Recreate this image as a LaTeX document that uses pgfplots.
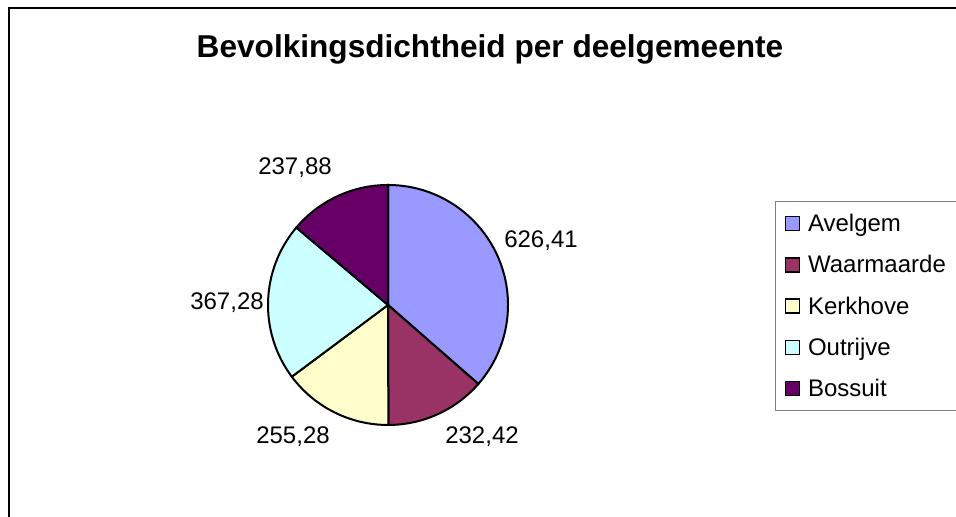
\documentclass[border=0pt]{standalone}
\usepackage{fontspec}
\setmainfont{Liberation Sans}
\usepackage{pgfplots}
\pgfplotsset{compat=1.18}
\usepackage{pgfplotstable}

% Excel 2003 pie palette
\definecolor{pie0}{HTML}{9999FF}
\definecolor{pie1}{HTML}{993366}
\definecolor{pie2}{HTML}{FFFFCC}
\definecolor{pie3}{HTML}{CCFFFF}
\definecolor{pie4}{HTML}{660066}

% lx, ly: centre of the value label (axis units)
\pgfplotstableread{
name value lx ly
Avelgem 626.41 541 276
Waarmaarde 232.42 482 80
Kerkhove 255.28 293 80
Outrijve 367.28 227 214
Bossuit 237.88 295 349
}\piedata

% sum and cumulative angles, clockwise from 12 o'clock
\pgfplotstablegetrowsof{\piedata}
\pgfmathtruncatemacro\lastrow{\pgfplotsretval-1}
\def\total{0}
\pgfplotsforeachungrouped \i in {0,...,\lastrow}{%
  \pgfplotstablegetelem{\i}{value}\of\piedata
  \pgfmathsetmacro\total{\total+\pgfplotsretval}%
}
\def\cum{0}
\pgfplotsforeachungrouped \i in {0,...,\lastrow}{%
  \pgfplotstablegetelem{\i}{value}\of\piedata
  \expandafter\xdef\csname pv\i\endcsname{\pgfplotsretval}%
  \pgfmathsetmacro\a{90-\cum/\total*360}%
  \pgfmathsetmacro\cum{\cum+\pgfplotsretval}%
  \pgfmathsetmacro\b{90-\cum/\total*360}%
  \expandafter\xdef\csname pa\i\endcsname{\a}%
  \expandafter\xdef\csname pb\i\endcsname{\b}%
  \pgfplotstablegetelem{\i}{name}\of\piedata
  \expandafter\xdef\csname pn\i\endcsname{\pgfplotsretval}%
  \pgfplotstablegetelem{\i}{lx}\of\piedata
  \expandafter\xdef\csname plx\i\endcsname{\pgfplotsretval}%
  \pgfplotstablegetelem{\i}{ly}\of\piedata
  \expandafter\xdef\csname ply\i\endcsname{\pgfplotsretval}%
}

\newcommand\lbl{\fontsize{12}{14}\selectfont}

\begin{document}
\begin{tikzpicture}
  \begin{axis}[
      x=0.5pt, y=0.5pt,
      xmin=0, xmax=956, ymin=0, ymax=517,
      hide axis, clip=false,
      legend image code/.code={\draw[#1,line width=0.75pt] (0pt,-3.5pt) rectangle (7pt,3.5pt);},
      legend cell align=left,
      legend style={at={(0.8107,0.6112)}, anchor=north west,
        draw=gray, line width=0.5pt, fill=white,
        font=\lbl, inner xsep=4.5pt, inner ysep=5pt, row sep=8.65pt,
        nodes={inner sep=0pt, text height=10pt, text depth=2pt},
        /tikz/every odd column/.append style={column sep=4pt}},
    ]
    % chart frame
    \draw[line width=1pt] (axis cs:8.5,-20) -- (axis cs:8.5,508.5) -- (axis cs:1000,508.5);

    \node[anchor=base, font=\bfseries\fontsize{15.8}{18}\selectfont]
      at (axis cs:490,459) {Bevolkingsdichtheid per deelgemeente};

    \pgfplotsinvokeforeach{0,...,4}{%
      \edef\piecmd{\noexpand\filldraw[fill=pie#1, draw=black, line width=1pt]
        (axis cs:388,212) -- ++(\csname pa#1\endcsname:60pt)
        arc[start angle=\csname pa#1\endcsname, end angle=\csname pb#1\endcsname, radius=60pt] -- cycle;}%
      \piecmd
      \edef\labcmd{\noexpand\node[font=\noexpand\lbl, inner sep=0pt]
        at (axis cs:\csname plx#1\endcsname,\csname ply#1\endcsname)
        {\noexpand\pgfmathprintnumber[fixed,fixed zerofill,precision=2,use comma,assume math mode=true]{\csname pv#1\endcsname}};}%
      \labcmd
      \addlegendimage{fill=pie#1, draw=black}
      \addlegendentryexpanded{\noexpand\makebox[80pt][l]{\csname pn#1\endcsname}}
    }
  \end{axis}
  \pgfresetboundingbox
  \useasboundingbox (0,0) rectangle (478pt,258.5pt);
\end{tikzpicture}
\end{document}
